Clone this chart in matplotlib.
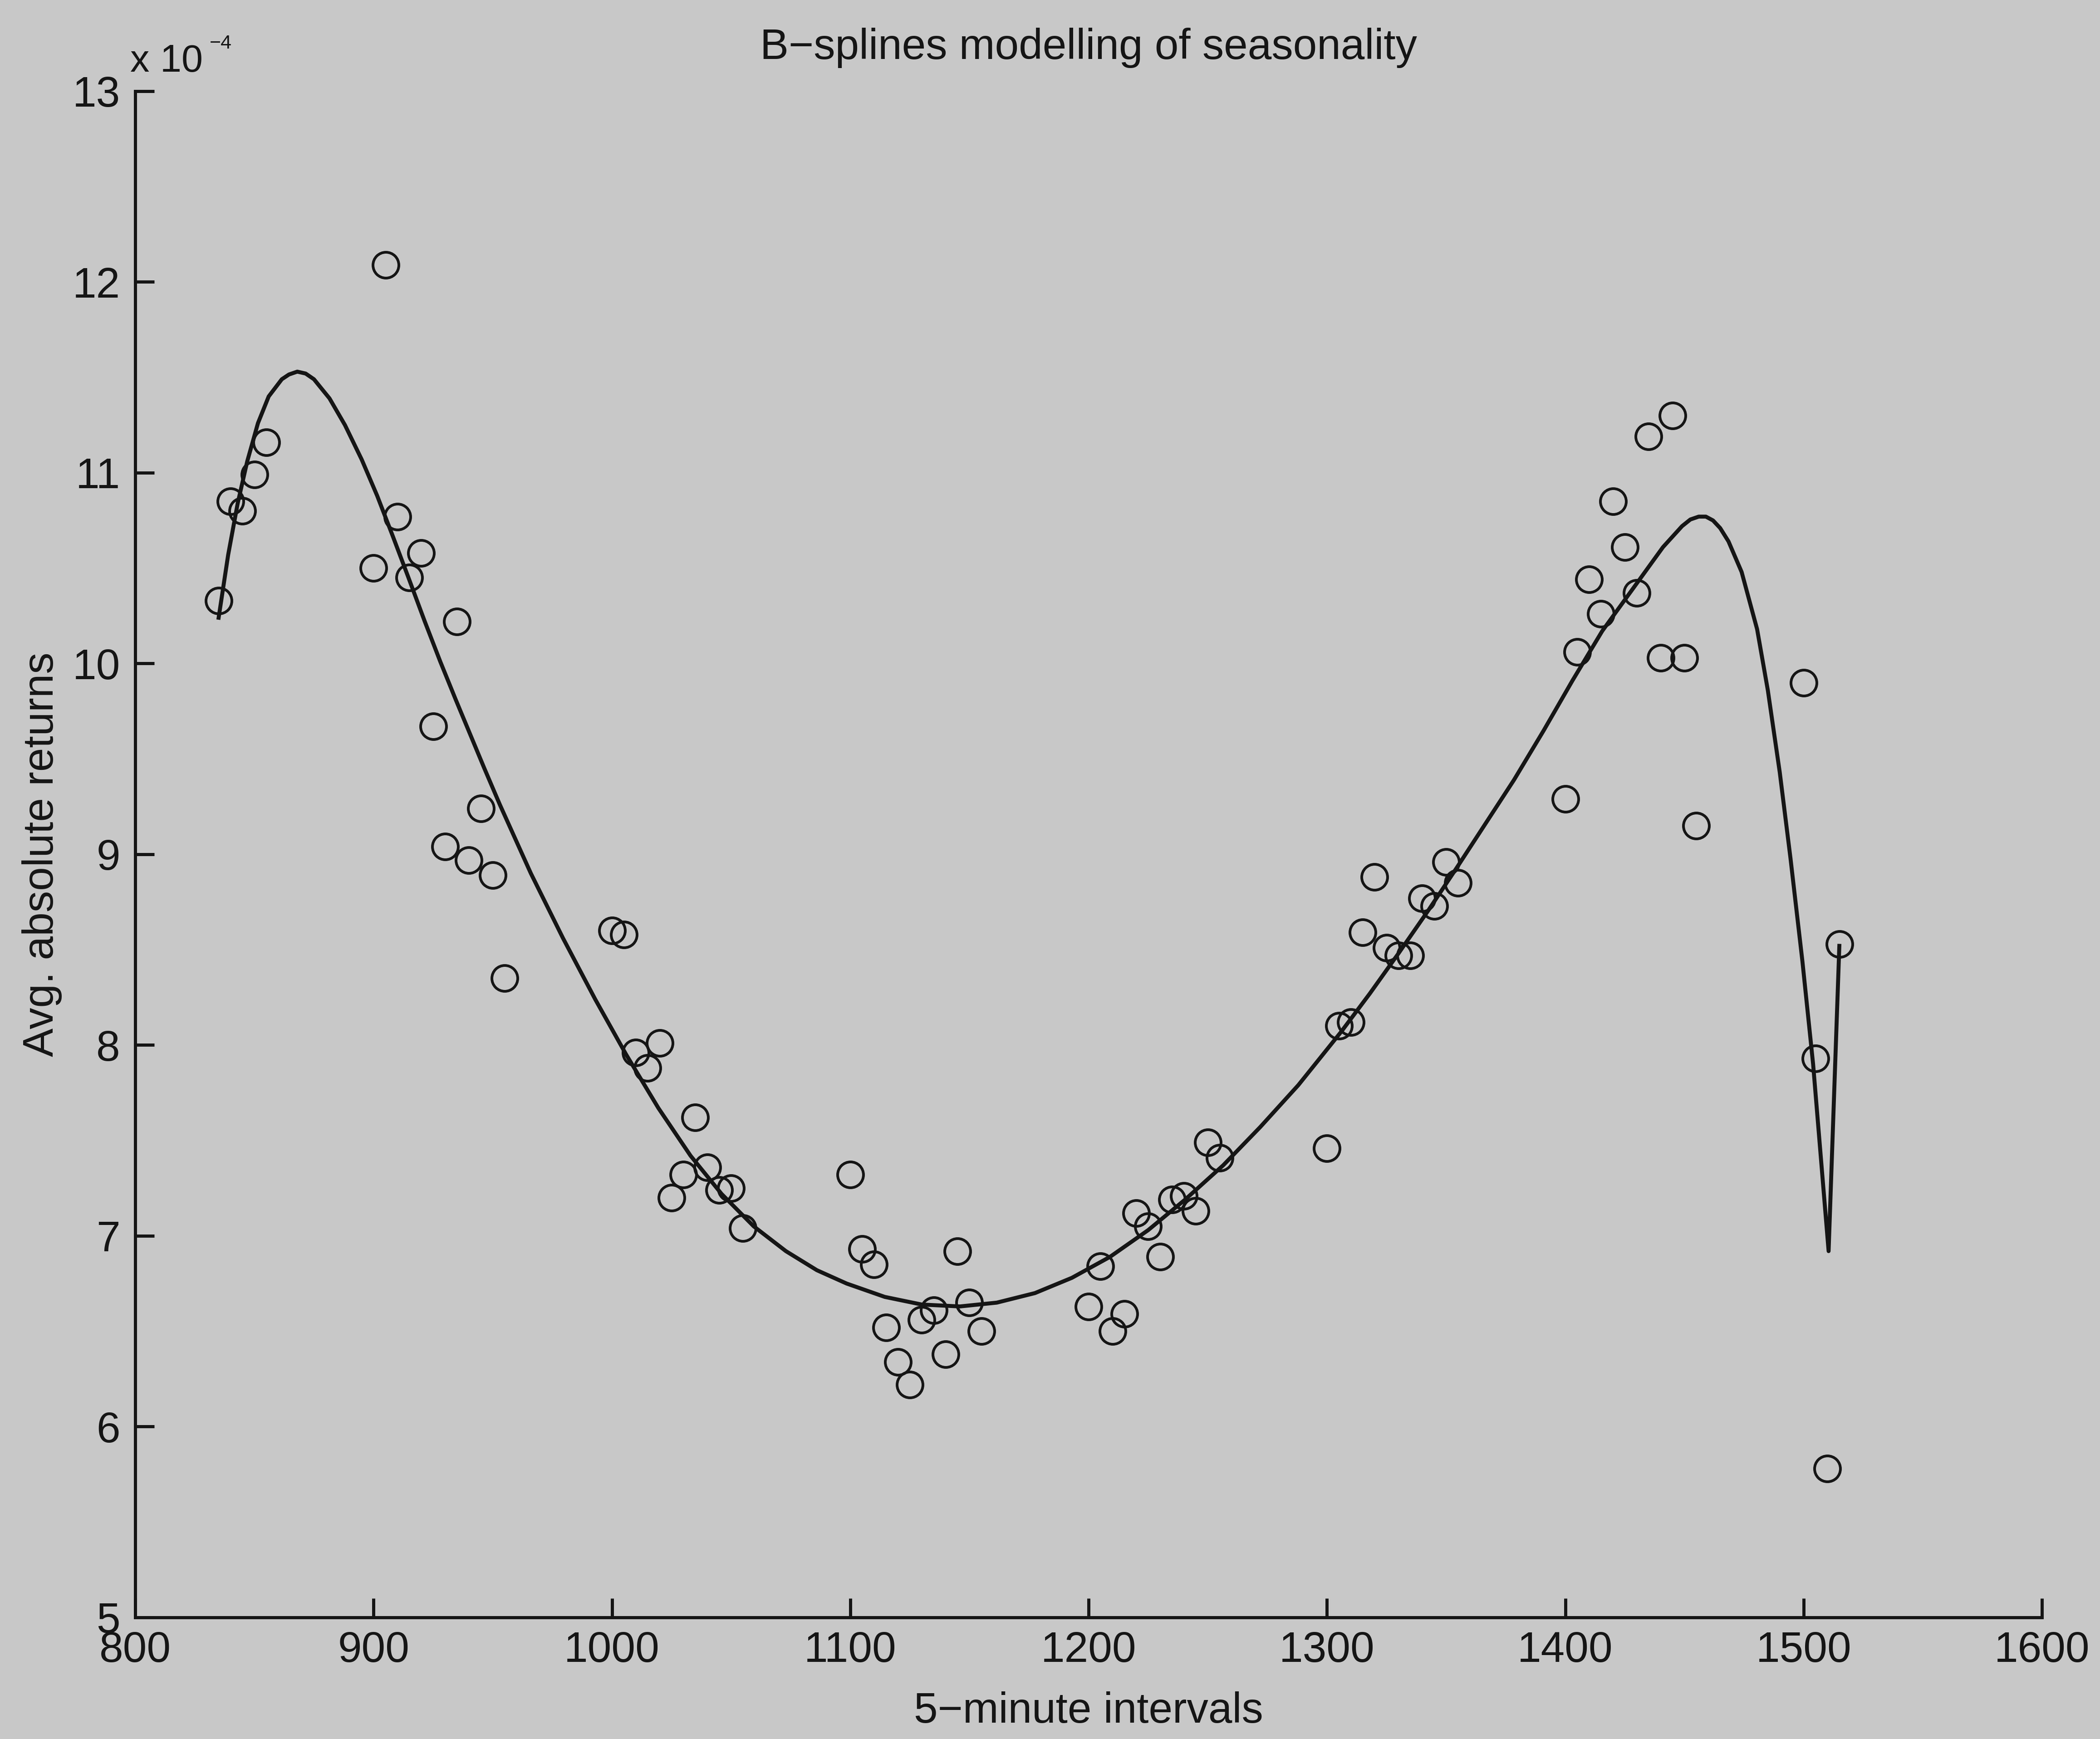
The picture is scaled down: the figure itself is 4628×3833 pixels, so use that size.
import matplotlib

matplotlib.use("Agg")
import matplotlib.pyplot as plt

# Average absolute returns (in units of 1e-4) per 5-minute interval, HHMM clock time
times = [
    835, 840, 845, 850, 855,
    900, 905, 910, 915, 920, 925, 930, 935, 940, 945, 950, 955,
    1000, 1005, 1010, 1015, 1020, 1025, 1030, 1035, 1040, 1045, 1050, 1055,
    1100, 1105, 1110, 1115, 1120, 1125, 1130, 1135, 1140, 1145, 1150, 1155,
    1200, 1205, 1210, 1215, 1220, 1225, 1230, 1235, 1240, 1245, 1250, 1255,
    1300, 1305, 1310, 1315, 1320, 1325, 1330, 1335, 1340, 1345, 1350, 1355,
    1400, 1405, 1410, 1415, 1420, 1425, 1430, 1435, 1440, 1445, 1450, 1455,
    1500, 1505, 1510, 1515,
]
avg_abs_returns = [
    10.33, 10.85, 10.80, 10.99, 11.16,
    10.50, 12.09, 10.77, 10.45, 10.58, 9.67, 9.04, 10.22, 8.97, 9.24, 8.89, 8.35,
    8.60, 8.58, 7.96, 7.88, 8.01, 7.20, 7.32, 7.62, 7.36, 7.24, 7.25, 7.04,
    7.32, 6.93, 6.85, 6.52, 6.34, 6.22, 6.56, 6.61, 6.38, 6.92, 6.65, 6.50,
    6.63, 6.84, 6.50, 6.59, 7.12, 7.05, 6.89, 7.19, 7.21, 7.13, 7.49, 7.41,
    7.46, 8.10, 8.12, 8.59, 8.88, 8.51, 8.47, 8.47, 8.77, 8.73, 8.96, 8.85,
    9.29, 10.06, 10.44, 10.26, 10.85, 10.61, 10.37, 11.19, 10.03, 11.30, 10.03, 9.15,
    9.90, 7.93, 5.78, 8.53,
]

# Fitted B-spline curve
spline_x = [
    835, 839, 843, 847, 851.5, 856, 861.5, 864.5, 868, 871.5, 875, 881.5, 888,
    895, 901.5, 908, 914.5, 921.5, 928, 934.5, 941.5, 946.5, 953, 966, 979.5,
    993, 1006, 1019.5, 1033, 1046, 1059.5, 1073, 1086, 1098.5, 1114.5, 1130,
    1146, 1161.5, 1177.5, 1193, 1209, 1225, 1240.5, 1256.5, 1272, 1288, 1306,
    1318, 1330, 1342.5, 1354.5, 1366.5, 1378.5, 1391, 1403, 1415.5, 1430, 1441,
    1449, 1452.5, 1456, 1459, 1462, 1465, 1468.5, 1474, 1480.5, 1485, 1490,
    1494.5, 1499.5, 1504, 1510.5, 1515,
]
spline_y = [
    10.24, 10.57, 10.84, 11.06, 11.26, 11.40, 11.49, 11.515, 11.53, 11.52, 11.49,
    11.39, 11.25, 11.07, 10.88, 10.67, 10.455, 10.22, 10.01, 9.81, 9.60, 9.45,
    9.26, 8.90, 8.56, 8.24, 7.95, 7.67, 7.42, 7.22, 7.05, 6.92, 6.82, 6.75, 6.68,
    6.64, 6.63, 6.65, 6.70, 6.78, 6.89, 7.03, 7.19, 7.37, 7.57, 7.79, 8.07, 8.27,
    8.48, 8.705, 8.93, 9.16, 9.39, 9.65, 9.91, 10.17, 10.42, 10.61, 10.72, 10.755,
    10.77, 10.77, 10.75, 10.71, 10.64, 10.48, 10.18, 9.86, 9.43, 8.98, 8.44, 7.90,
    6.92, 8.52,
]

x_ticks = [800, 900, 1000, 1100, 1200, 1300, 1400, 1500, 1600]
y_ticks = [5, 6, 7, 8, 9, 10, 11, 12, 13]

W, H = 4628, 3833
BG = "#c8c8c8"
INK = "#151515"
FONT = ["Liberation Sans", "DejaVu Sans"]

plt.rcParams["font.family"] = FONT

fig = plt.figure(figsize=(W / 100, H / 100), dpi=100, facecolor=BG)
left, right, top, bottom = 298, 4500, 201, 3565
ax = fig.add_axes(
    [left / W, 1 - bottom / H, (right - left) / W, (bottom - top) / H]
)
ax.set_facecolor(BG)

ax.plot(spline_x, spline_y, color=INK, linewidth=6.3, solid_joinstyle="round")
ax.plot(
    times,
    avg_abs_returns,
    linestyle="none",
    marker="o",
    markersize=41,
    markerfacecolor="none",
    markeredgecolor=INK,
    markeredgewidth=4.3,
)

ax.set_xlim(800, 1600)
ax.set_ylim(5, 13)
ax.set_xticks(x_ticks)
ax.set_yticks(y_ticks)

for side in ["top", "right"]:
    ax.spines[side].set_visible(False)
for side in ["left", "bottom"]:
    ax.spines[side].set_linewidth(5)
    ax.spines[side].set_color(INK)

ax.tick_params(
    direction="in", length=30, width=5, color=INK, labelcolor=INK, labelsize=68
)
ax.tick_params(axis="x", pad=21)
ax.tick_params(axis="y", pad=24)

# Title, axis labels and the multiplier placed where they sit in the original
fig.text(2399 / W, 1 - 130 / H, "B−splines modelling of seasonality",
         ha="center", va="baseline", fontsize=68, color=INK)
fig.text(2399 / W, 1 - 3797 / H, "5−minute intervals",
         ha="center", va="baseline", fontsize=68, color=INK)
fig.text(117 / W, 1 - 1883 / H, "Avg. absolute returns", rotation=90,
         rotation_mode="anchor", ha="center", va="baseline",
         fontsize=68, color=INK)
fig.text(287 / W, 1 - 158 / H, "x 10", ha="left", va="baseline",
         fontsize=61, color=INK)
fig.text(462 / W, 1 - 107 / H, "−4", ha="left", va="baseline",
         fontsize=31, color=INK)

fig.savefig("out.png", dpi=100, facecolor=BG)
